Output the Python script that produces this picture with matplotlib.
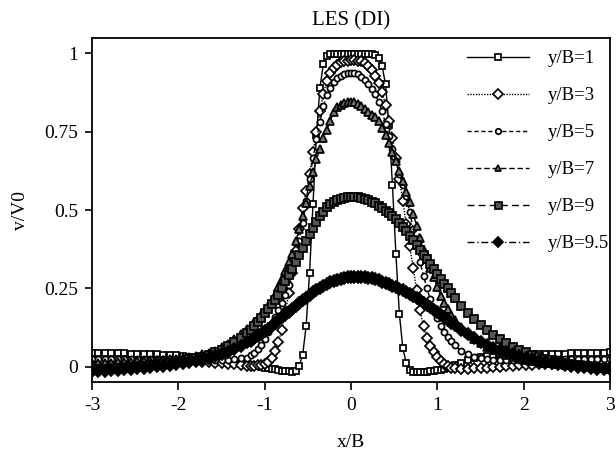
import numpy as np
import matplotlib
matplotlib.use('Agg')
import matplotlib.pyplot as plt

plt.rcParams['font.family'] = ['Liberation Serif', 'DejaVu Serif']
plt.rcParams['axes.unicode_minus'] = False

# sample positions x/B (coarse outside, fine in the jet core)
x_left = -3.0 + 0.075 * np.arange(24)
x_mid = -1.2 + 0.04 * np.arange(61)
x_right = 1.275 + 0.075 * np.arange(24)
xb = np.concatenate([x_left, x_mid, x_right])

# y/B=1
v1_left = [.045, .045, .044, .044, .043, .043, .042, .042, .041, .041, .040, .039,
           .038, .037, .035, .033, .031, .028, .025, .022, .019, .016, .013, .010]
v1_mid = [.008, .006, .004, .002, .000, -.002, -.004, -.006, -.008, -.010, -.012, -.013,
          -.014, -.015, -.013, .004, .038, .13, .30, .52, .74, .89, .965, .99, .996,
          .997, .997, .997, .997, .997, .997, .997, .997, .997, .997, .997,
          .996, .993, .985, .96, .90, .77, .58, .36, .17, .06, .012,
          -.010, -.015, -.016, -.016, -.016, -.015, -.014, -.013, -.011, -.009, -.006,
          -.002, .002, .006]
v1_right = [.014, .021, .027, .031, .034, .036, .037, .038, .038, .039, .039, .040,
            .040, .041, .041, .042, .042, .043, .043, .044, .044, .045, .045, .046]

# y/B=3
v3_left = [.002, .003, .004, .005, .006, .007, .008, .009, .011, .012, .014, .015,
           .016, .017, .018, .018, .018, .017, .016, .014, .012, .010, .008, .006]
v3_mid = [.004, .004, .004, .005, .006, .009, .015, .027, .050, .080,
          .118, .175, .235, .300, .370, .440, .505, .560, .615, .685,
          .750, .815, .870, .910, .935, .952, .962, .970, .974, .976,
          .977, .977, .976, .974, .968, .958, .945, .928, .905, .875,
          .835, .785, .730, .665, .600, .530, .455, .385, .315, .245,
          .180, .130, .092, .066, .048, .033, .020, .010, .003, -.002, -.004]
v3_right = [-.005, -.005, -.004, -.003, -.002, .000, .001, .003, .004, .005, .006, .007,
            .008, .009, .009, .010, .010, .011, .011, .011, .012, .012, .012, .012]

# y/B=5
v5_left = [.025, .025, .025, .025, .025, .025, .025, .025, .025, .025, .025, .025,
           .025, .024, .024, .023, .022, .022, .021, .021, .021, .022, .024, .027]
v5_mid = [.030, .037, .045, .056, .070, .090, .112, .136, .160, .182,
          .204, .228, .262, .305, .350, .400, .460, .530, .600, .665,
          .725, .780, .830, .865, .890, .908, .920, .928, .932, .935,
          .936, .935, .932, .925, .915, .900, .885, .868, .845, .815,
          .775, .735, .695, .655, .615, .580, .545, .495, .440, .385,
          .335, .290, .250, .215, .183, .155, .132, .112, .096, .083, .070]
v5_right = [.050, .040, .032, .027, .024, .022, .021, .021, .021, .022, .022, .023,
            .023, .023, .024, .024, .024, .024, .025, .025, .025, .025, .025, .025]

# y/B=7
v7_left = [.012, .012, .013, .014, .015, .016, .017, .018, .019, .020, .021, .023,
           .024, .026, .028, .031, .035, .040, .045, .052, .062, .074, .088, .105]
v7_mid = [.122, .132, .143, .155, .167, .180, .194, .210, .230, .256,
          .281, .306, .333, .360, .400, .440, .480, .522, .575, .620,
          .662, .695, .728, .755, .785, .812, .828, .836, .841, .844,
          .845, .844, .838, .830, .822, .813, .803, .795, .785, .762,
          .738, .713, .685, .655, .625, .592, .558, .525, .488, .450,
          .410, .372, .343, .315, .285, .255, .226, .205, .185, .165, .150]
v7_right = [.128, .108, .090, .075, .063, .053, .045, .038, .032, .027, .023, .019,
            .016, .013, .011, .009, .007, .006, .005, .004, .004, .003, .003, .003]

# y/B=9
v9_left = [-.009, -.008, -.007, -.006, -.004, -.003, -.001, .001, .003, .005, .007, .010,
           .013, .016, .020, .024, .028, .033, .039, .046, .055, .066, .079, .093]
v9_mid = [.108, .117, .130, .143, .157, .171, .185, .199, .214, .230,
          .252, .274, .292, .311, .333, .356, .380, .402, .424, .444,
          .462, .480, .495, .508, .518, .526, .532, .536, .539, .541,
          .542, .542, .541, .539, .536, .532, .527, .521, .514, .506,
          .498, .490, .480, .470, .458, .446, .432, .418, .404, .390,
          .374, .358, .343, .328, .312, .296, .280, .265, .250, .235, .220]
v9_right = [.195, .172, .152, .133, .117, .101, .088, .076, .065, .055, .046, .039,
            .032, .026, .021, .016, .012, .008, .005, .002, .000, -.002, -.004, -.005]

# y/B=9.5
v95_left = [-.014, -.013, -.012, -.011, -.009, -.008, -.006, -.004, -.002, .000, .002, .004,
            .007, .010, .013, .016, .020, .024, .029, .034, .040, .047, .056, .066]
v95_mid = [.078, .084, .091, .098, .105, .113, .122, .131, .140, .149,
           .158, .167, .176, .185, .194, .203, .212, .221, .230, .238,
           .246, .253, .259, .265, .270, .274, .278, .281, .283, .285,
           .286, .287, .287, .287, .286, .284, .282, .279, .276, .272,
           .268, .264, .259, .254, .249, .244, .238, .232, .226, .219,
           .212, .205, .198, .190, .182, .174, .166, .158, .150, .141, .133]
v95_right = [.118, .104, .091, .080, .070, .061, .053, .046, .040, .034, .029, .024,
             .020, .016, .012, .009, .006, .003, .001, -.001, -.003, -.005, -.006, -.007]

labels = ['y/B=1', 'y/B=3', 'y/B=5', 'y/B=7', 'y/B=9', 'y/B=9.5']
series = [v1_left + v1_mid + v1_right,
          v3_left + v3_mid + v3_right,
          v5_left + v5_mid + v5_right,
          v7_left + v7_mid + v7_right,
          v9_left + v9_mid + v9_right,
          v95_left + v95_mid + v95_right]

styles = [
    dict(ls='-', marker='s', ms=4.6, mfc='white'),
    dict(ls=(0, (1, 1)), marker='D', ms=5.2, mfc='white'),
    dict(ls=(0, (3, 2)), marker='o', ms=4.4, mfc='white'),
    dict(ls=(0, (4, 2)), marker='^', ms=5.4, mfc='#777777'),
    dict(ls=(0, (5, 3)), marker='s', ms=5.6, mfc='#555555'),
    dict(ls=(0, (5, 2, 1, 2)), marker='D', ms=6.0, mfc='black'),
]

fig = plt.figure(figsize=(6.16, 4.57), dpi=100)
ax = fig.add_axes([92 / 616, 1 - 382 / 457, 518 / 616, 344 / 457])

for vals, lab, st in zip(series, labels, styles):
    ax.plot(xb, vals, color='black', lw=1.0, mec='black', mew=1.25, label=lab, **st)

ax.set_xlim(-3, 3)
ax.set_ylim(-0.048, 1.048)
ax.set_xticks([-3, -2, -1, 0, 1, 2, 3])
ax.set_xticklabels(['-3', '-2', '-1', '0', '1', '2', '3'])
ax.set_yticks([0, 0.25, 0.5, 0.75, 1])
ax.set_yticklabels(['0', '0.25', '0.5', '0.75', '1'])
ax.tick_params(axis='x', direction='out', length=6, width=1.2, labelsize=14, pad=5)
ax.tick_params(axis='y', direction='out', length=5, width=1.2, labelsize=14, pad=5)
for sp in ax.spines.values():
    sp.set_linewidth(1.3)

ax.set_title('LES (DI)', fontsize=15, pad=9)
ax.set_xlabel('x/B', fontsize=14, labelpad=14)
ax.set_ylabel('v/V0', fontsize=14, labelpad=11)

ax.legend(loc='upper left', bbox_to_anchor=(0.724, 0.965), frameon=False, fontsize=13.5,
          handlelength=3.3, handletextpad=1.0, labelspacing=1.06, borderpad=0,
          borderaxespad=0, markerscale=0.9)

fig.savefig('out.png', dpi=100)
